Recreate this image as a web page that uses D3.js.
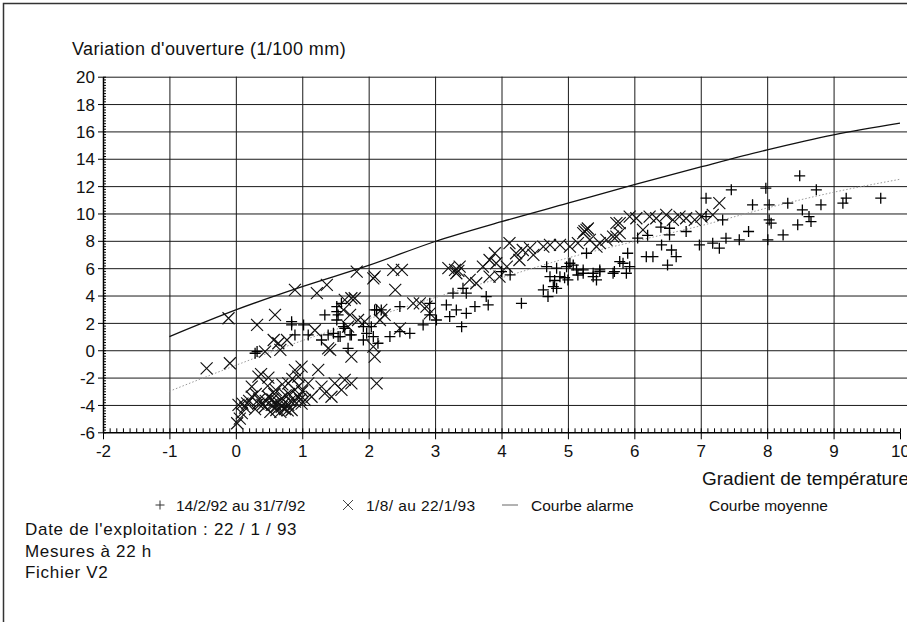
<!DOCTYPE html>
<html>
<head>
<meta charset="utf-8">
<script src="https://cdn.jsdelivr.net/npm/d3@7"></script>
<style>
  body { margin: 0; background: #fff; }
  text { font-family: 'Liberation Sans', Arial, sans-serif; fill: #111; }
</style>
</head>
<body>
<div class="visual"></div>
<script>
const [width, height] = [907, 622];
const [x_ticks, y_ticks] = [d3.range(-2, 11), d3.range(-6, 21, 2)];

// courbe alarme / courbe moyenne
const alarm_x = [-1, 0, 1, 2, 3, 4, 5, 6, 7, 8, 9, 10];
const alarm_y = [1.0, 2.95, 4.65, 6.2, 7.95, 9.4, 10.75, 12.1, 13.4, 14.65, 15.75, 16.6];
const mean_x = [-1, 0, 1, 2, 3, 4, 5, 6, 7, 8, 9, 10];
const mean_y = [-3.0, -1.1, 0.7, 2.3, 3.85, 5.3, 6.75, 7.95, 9.1, 10.4, 11.55, 12.5];

// + 14/2/92 au 31/7/92
const plus_pts = [
  [0.29, -0.22], [0.32, -0.1], [0.84, 2.09], [0.84, 1.85], [1.02, 1.85], [0.89, 1.12], [1.09, 1.12],
  [1.34, 2.58], [1.52, 2.82], [1.59, 3.43], [1.52, 2.21], [1.64, 1.6], [1.74, 1.12], [1.54, 1.0],
  [1.39, 1.12], [1.69, 0.14], [2.09, 2.95], [2.04, 1.72], [2.07, 1.0], [2.14, 0.51], [1.92, 0.75],
  [2.19, 2.95], [1.29, 0.75], [1.52, 3.19], [1.54, 2.58], [1.62, 1.72], [1.47, 1.24], [1.57, 1.0],
  [1.72, 1.12], [1.92, 1.72], [1.97, 1.24], [2.12, 2.95], [2.32, 1.0], [2.47, 3.19], [2.47, 1.36],
  [2.62, 1.24], [2.82, 1.85], [2.92, 2.58], [3.02, 2.21], [2.92, 3.43], [3.17, 3.31], [3.22, 2.46],
  [3.32, 2.95], [3.27, 4.17], [3.4, 1.72], [3.47, 2.7], [3.6, 3.19], [3.42, 4.53], [3.47, 4.17],
  [3.77, 3.92], [3.8, 3.31], [4.0, 5.75], [4.13, 5.51], [4.3, 3.43], [4.63, 4.41], [4.7, 3.92],
  [4.83, 4.53], [4.73, 5.38], [4.88, 5.38], [4.98, 6.11], [5.03, 6.36], [5.0, 5.14], [5.13, 5.87],
  [5.23, 5.87], [5.28, 7.09], [5.38, 5.38], [5.43, 5.14], [5.48, 5.75], [5.7, 5.75], [5.78, 6.48],
  [4.68, 6.11], [4.83, 6.0], [4.78, 4.65], [5.08, 6.23], [5.23, 5.63], [5.38, 5.63], [4.8, 5.1],
  [4.95, 5.3], [5.15, 5.5], [5.48, 5.87], [5.68, 5.63], [5.88, 5.63], [5.83, 6.36], [5.93, 6.11],
  [5.9, 7.09], [6.18, 6.84], [6.28, 6.84], [6.5, 6.23], [6.63, 6.84], [6.56, 7.33], [6.41, 7.7],
  [6.53, 8.43], [6.53, 8.92], [6.78, 8.68], [6.2, 8.4], [6.4, 9.0], [6.05, 8.2], [7.08, 9.77],
  [7.33, 9.53], [6.98, 7.7], [7.18, 7.83], [7.28, 7.46], [7.38, 8.19], [7.58, 8.07], [7.72, 8.68],
  [8.01, 8.07], [8.24, 8.43], [8.46, 9.17], [8.03, 9.53], [8.06, 9.29], [8.63, 9.77], [8.66, 9.41],
  [8.53, 10.26], [8.31, 10.75], [8.03, 10.63], [7.78, 10.63], [8.81, 10.63], [9.14, 10.75],
  [9.19, 11.12], [9.71, 11.12], [8.74, 11.73], [7.98, 11.85], [7.46, 11.73], [7.08, 11.12], [8.49, 12.75],
];

// X 1/8/ au 22/1/93
const cross_pts = [
  [-0.11, 2.34], [-0.44, -1.32], [-0.09, -0.95], [0.04, -4.0], [0.02, -5.34], [0.09, -4.6], [0.17, -3.88],
  [0.06, -5.0], [0.34, -1.93], [0.38, -1.75], [0.24, -2.66], [0.32, 1.85], [0.59, 2.58], [0.57, 0.75],
  [0.64, 0.51], [0.77, 0.75], [0.67, 0.02], [0.44, -0.1], [0.89, 4.41], [1.22, 4.17], [1.37, 4.78],
  [1.82, 5.75], [2.09, 5.38], [1.64, 3.68], [1.79, 3.8], [1.84, 2.21], [1.69, 1.72], [1.94, 2.09],
  [2.09, -0.47], [1.74, -0.47], [1.39, 0.14], [1.19, 1.46], [2.12, -2.42], [0.99, -1.2], [0.94, -1.93],
  [0.79, -2.42], [0.89, -2.9], [1.09, -2.42], [1.24, -1.44], [1.29, -2.66], [1.49, -2.42], [1.64, -2.17],
  [1.74, -2.42], [1.59, -2.9], [1.44, -3.4], [1.34, -3.15], [1.14, -3.4], [1.04, -3.63], [0.24, -3.4],
  [0.49, -3.4], [0.59, -3.9], [0.69, -4.13], [0.79, -4.0], [0.89, -3.76], [0.44, -4.13], [0.34, -3.9],
  [0.69, -3.5], [0.84, -4.37], [0.61, -4.37], [0.94, -3.4], [0.89, -1.45], [0.54, -4.0], [0.64, -3.8],
  [0.74, -4.3], [0.99, -3.9], [0.14, -4.2], [0.29, -4.3], [0.49, -2.0], [0.35, -3.6], [0.45, -3.7],
  [0.55, -3.6], [0.62, -4.1], [0.72, -3.9], [0.78, -4.4], [0.82, -3.7], [0.52, -4.5], [0.4, -4.0],
  [0.67, -4.5], [0.97, -3.6], [0.3, -3.2], [0.2, -3.7], [0.1, -3.9], [0.75, -3.3], [0.58, -3.2],
  [0.48, -2.6], [0.6, -2.9], [0.7, -2.5], [0.85, -2.1], [0.95, -2.6], [1.0, -3.0], [0.8, -3.2],
  [2.07, 5.26], [2.37, 5.87],
  [2.5, 5.87], [2.4, 4.41], [1.74, 3.8], [1.62, 2.95], [1.72, 2.58], [2.19, 2.95], [2.24, 2.58],
  [2.17, 2.21], [2.77, 3.43], [2.87, 3.19], [2.92, 2.7], [2.47, 1.6], [2.07, 0.26], [1.42, 0.02],
  [3.2, 6.0], [3.3, 5.87], [3.37, 6.11], [3.32, 5.63], [3.35, 5.8], [3.52, 5.14], [3.62, 4.9],
  [3.72, 6.11], [3.82, 6.6], [3.9, 7.09], [3.92, 6.36], [4.08, 6.11], [4.12, 7.83], [4.22, 7.09],
  [4.32, 7.33], [4.43, 7.46], [4.48, 6.97], [4.63, 7.58], [4.73, 7.7], [4.88, 7.7], [5.03, 7.58],
  [5.15, 7.83], [5.23, 8.56], [5.28, 8.8], [5.33, 8.07], [5.43, 7.58], [5.68, 8.31], [5.73, 9.29],
  [4.27, 6.6], [3.82, 5.38], [3.97, 5.38], [2.67, 3.43], [5.78, 9.29], [5.73, 8.31], [5.58, 8.07],
  [5.48, 7.83], [5.93, 9.77], [6.03, 9.65], [6.13, 8.8], [6.23, 9.77], [6.33, 9.65], [6.48, 9.9],
  [6.58, 9.53], [6.68, 9.77], [6.78, 9.65], [6.91, 9.53], [7.01, 9.77], [7.18, 9.9], [7.28, 10.75],
  [5.78, 8.56], [5.25, 8.7], [5.3, 8.9],
];

const legend_items = ['14/2/92 au 31/7/92', '1/8/ au 22/1/93', 'Courbe alarme', 'Courbe moyenne'];
const notes = ["Date de l'exploitation : 22 / 1 / 93", 'Mesures à 22 h', 'Fichier V2'];

const svg = d3
  .select('.visual')
  .append('svg')
  .attr('width', width)
  .attr('height', height);

const x_scale = d3.scaleLinear().domain([-2, 10]).range([103, 900]);
const y_scale = d3.scaleLinear().domain([-6, 20]).range([432.3, 76.7]);

// scan frame, top and left
svg
  .append('path')
  .attr('d', 'M3.5,622V3.5H907')
  .attr('fill', 'none')
  .attr('stroke', '#333')
  .attr('stroke-width', 1.5);

// grid
svg
  .append('g')
  .attr('transform', 'translate(103,0)')
  .call(d3.axisLeft(y_scale).tickValues(d3.range(-4, 21, 2)).tickSize(-804).tickFormat(''))
  .call((g) => g.select('.domain').remove())
  .selectAll('line')
  .attr('stroke', '#1a1a1a');

svg
  .append('g')
  .attr('transform', 'translate(0,432.3)')
  .call(d3.axisBottom(x_scale).tickValues(d3.range(-1, 10)).tickSize(-355.6).tickFormat(''))
  .call((g) => g.select('.domain').remove())
  .selectAll('line')
  .attr('stroke', '#1a1a1a');

// minor ticks
svg
  .append('g')
  .attr('transform', 'translate(0,432.3)')
  .call(d3.axisBottom(x_scale).tickValues(d3.range(-20, 101).map((d) => d / 10)).tickSize(-4).tickFormat(''))
  .call((g) => g.select('.domain').remove());

svg
  .append('g')
  .attr('transform', 'translate(103,0)')
  .call(d3.axisLeft(y_scale).tickValues(d3.range(-30, 101).map((d) => d / 5)).tickSize(-3).tickFormat(''))
  .call((g) => g.select('.domain').remove());

// main axes
const x_axis = svg
  .append('g')
  .attr('transform', 'translate(0,432.3)')
  .call(
    d3.axisBottom(x_scale).tickValues(x_ticks).tickFormat((d) => `${d}`)
      .tickSize(7).tickPadding(6).tickSizeOuter(0)
  );

const y_axis = svg
  .append('g')
  .attr('transform', 'translate(103,0)')
  .call(
    d3.axisLeft(y_scale).tickValues(y_ticks).tickFormat((d) => `${d}`)
      .tickSize(5).tickPadding(3).tickSizeOuter(0)
  );

[x_axis, y_axis].forEach((axis) => {
  axis.attr('font-family', null).attr('font-size', null);
  axis.select('.domain').attr('stroke', '#000').attr('stroke-width', 1.5);
  axis.selectAll('text').style('font-size', '17px').attr('fill', '#111');
});
y_axis.selectAll('text').attr('dy', '0.36em');

// curves
const line = d3
  .line()
  .x((d) => x_scale(d[0]))
  .y((d) => y_scale(d[1]))
  .curve(d3.curveMonotoneX);

svg
  .append('path')
  .datum(alarm_x.map((d, i) => [d, alarm_y[i]]))
  .attr('d', line)
  .attr('fill', 'none')
  .attr('stroke', '#111')
  .attr('stroke-width', 1.3);

svg
  .append('path')
  .datum(mean_x.map((d, i) => [d, mean_y[i]]))
  .attr('d', line)
  .attr('fill', 'none')
  .attr('stroke', '#999')
  .attr('stroke-width', 1)
  .attr('stroke-dasharray', '1.5,2');

// markers
const PLUS = 'M-5.5,0H5.5M0,-5.5V5.5';
const CROSS = 'M-6,-6L6,6M-6,6L6,-6';

svg
  .append('g')
  .selectAll('path')
  .data(cross_pts)
  .enter()
  .append('path')
  .attr('d', CROSS)
  .attr('transform', (d) => `translate(${x_scale(d[0])},${y_scale(d[1])})`)
  .attr('fill', 'none')
  .attr('stroke', '#111')
  .attr('stroke-width', 1.15);

svg
  .append('g')
  .selectAll('path')
  .data(plus_pts)
  .enter()
  .append('path')
  .attr('d', PLUS)
  .attr('transform', (d) => `translate(${x_scale(d[0])},${y_scale(d[1])})`)
  .attr('fill', 'none')
  .attr('stroke', '#000')
  .attr('stroke-width', 1.3);

// axis titles
svg
  .append('text')
  .attr('x', 72)
  .attr('y', 55)
  .style('font-size', '18px')
  .style('letter-spacing', '0.4px')
  .text("Variation d'ouverture (1/100 mm)");

svg
  .append('text')
  .attr('x', 702)
  .attr('y', 485)
  .style('font-size', '19px')
  .text('Gradient de température');

// legend
const legend = svg.append('g').style('font-size', '15.5px');
legend.append('path').attr('d', 'M-4.5,0H4.5M0,-4.5V4.5').attr('transform', 'translate(160,505)').attr('stroke', '#333');
legend.append('text').attr('x', 176).attr('y', 510.5).text(legend_items[0]);
legend.append('path').attr('d', 'M-5,-5L5,5M-5,5L5,-5').attr('transform', 'translate(348,505)').attr('stroke', '#444');
legend.append('text').attr('x', 366).attr('y', 510.5).style('letter-spacing', '0.4px').text(legend_items[1]);
legend.append('line').attr('x1', 502).attr('x2', 518).attr('y1', 505).attr('y2', 505).attr('stroke', '#666');
legend.append('text').attr('x', 531).attr('y', 510.5).text(legend_items[2]);
legend.append('text').attr('x', 709).attr('y', 510.5).text(legend_items[3]);

// notes
svg
  .append('g')
  .selectAll('text')
  .data(notes)
  .enter()
  .append('text')
  .attr('x', 25)
  .attr('y', (d, i) => 535 + i * 21.5)
  .style('font-size', '17px')
  .style('letter-spacing', '0.7px')
  .text((d) => d);
</script>
</body>
</html>
